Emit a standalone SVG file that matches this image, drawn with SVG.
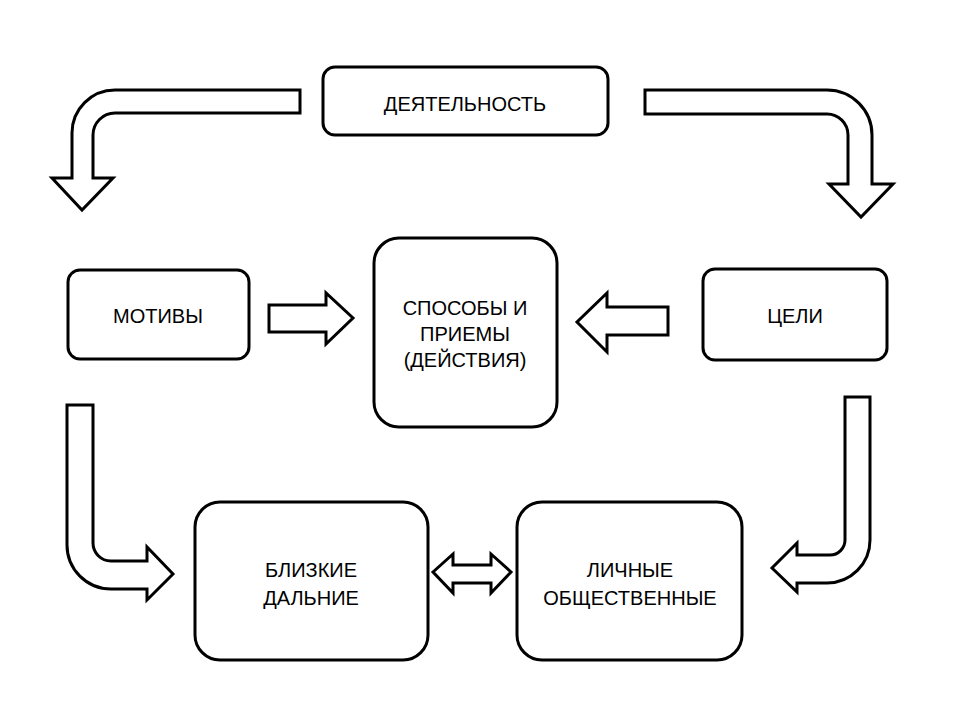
<svg xmlns="http://www.w3.org/2000/svg" width="960" height="720" viewBox="0 0 960 720">
<style>
.box{fill:#fff;stroke:#000;stroke-width:3}
.arr{fill:#fff;stroke:#000;stroke-width:3;stroke-linejoin:miter}
text{font-family:"Liberation Sans",Arial,sans-serif;font-size:20px;fill:#000;text-anchor:middle}
</style>
<rect width="960" height="720" fill="#fff"/>
<g id="connectors">
<path class="arr" d="M300,90 L115,90 A43,43 0 0 0 72,133 L72,178 L52,178 L82,210 L113,178 L93,178 L93,135 A22,22 0 0 1 115,113 L300,113 Z"/>
<path class="arr" d="M645,90 L827,90 A45,45 0 0 1 872,135 L872,184 L893,184 L861,217 L829,184 L848,184 L848,135 A21,21 0 0 0 827,114 L645,114 Z"/>
<path class="arr" d="M67,405 L93,405 L93,543 A18,18 0 0 0 111,561 L147,561 L147,547 L173,574 L147,600 L147,589 L111,589 A44,44 0 0 1 67,545 Z"/>
<path class="arr" d="M845,397 L870,397 L870,540 A43,43 0 0 1 827,583 L797,583 L797,592 L772,568 L797,543 L797,555 L830,555 A15,15 0 0 0 845,540 Z"/>
<path class="arr" d="M269,305 L326,305 L326,293 L353,318 L326,344 L326,332 L269,332 Z"/>
<path class="arr" d="M668,307 L607,307 L607,293 L577,322 L607,352 L607,335 L668,335 Z"/>
<path class="arr" d="M433,572 L453,554 L453,565 L491,565 L491,554 L511,572 L491,593 L491,583 L453,583 L453,593 Z"/>
</g>
<g id="node-activity">
<rect class="box" x="323" y="67" width="285" height="68" rx="12"/>
<text x="465" y="111">ДЕЯТЕЛЬНОСТЬ</text>
</g>
<g id="node-motives">
<rect class="box" x="68" y="270" width="181" height="89" rx="12"/>
<text x="158" y="323">МОТИВЫ</text>
</g>
<g id="node-methods">
<rect class="box" x="374" y="238" width="183" height="189" rx="25"/>
<text x="465" y="315">СПОСОБЫ И</text>
<text x="465" y="341">ПРИЕМЫ</text>
<text x="465" y="367">(ДЕЙСТВИЯ)</text>
</g>
<g id="node-goals">
<rect class="box" x="703" y="269" width="184" height="91" rx="12"/>
<text x="795" y="323">ЦЕЛИ</text>
</g>
<g id="node-near-far">
<rect class="box" x="195" y="502" width="233" height="158" rx="25"/>
<text x="311" y="577">БЛИЗКИЕ</text>
<text x="311" y="605">ДАЛЬНИЕ</text>
</g>
<g id="node-personal-social">
<rect class="box" x="517" y="502" width="225" height="158" rx="25"/>
<text x="630" y="577">ЛИЧНЫЕ</text>
<text x="630" y="605">ОБЩЕСТВЕННЫЕ</text>
</g>
</svg>
